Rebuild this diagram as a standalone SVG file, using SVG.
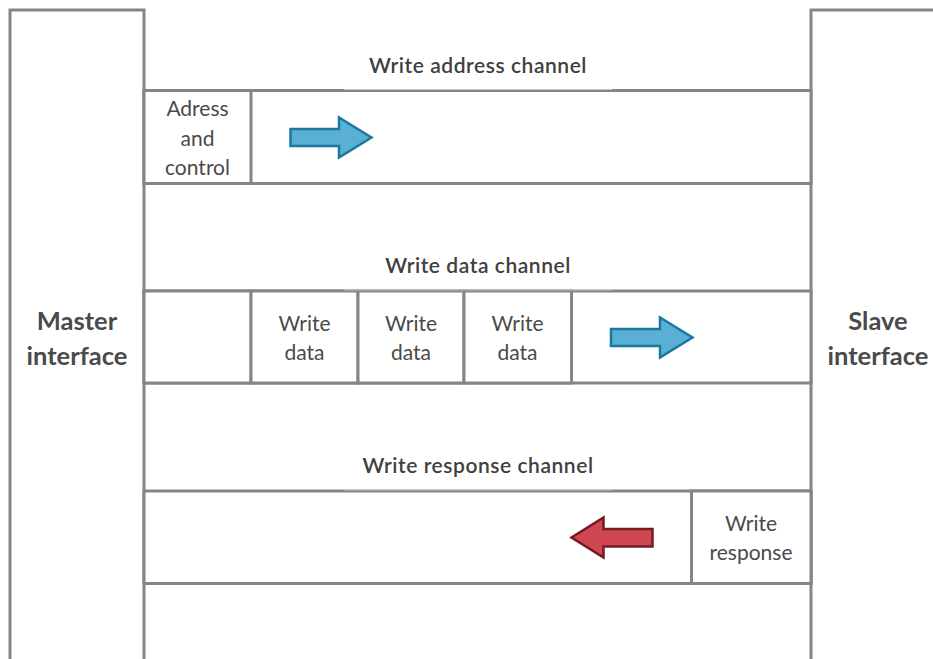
<svg xmlns="http://www.w3.org/2000/svg" width="933" height="659" viewBox="0 0 933 659">
  <style>
    .frame { fill: none; stroke: #858585; stroke-width: 3; }
    .cell { fill: #ffffff; stroke: #858585; stroke-width: 3; }
    .seam { fill: #c6c6c6; }
    .title { font-family: Lato, "Liberation Sans", sans-serif; font-size: 21px; font-weight: 600; letter-spacing: 0.55px; fill: #404040; text-anchor: middle; }
    .label { font-family: Lato, "Liberation Sans", sans-serif; font-size: 21px; fill: #4a4a4a; text-anchor: middle; }
    .side { font-family: Lato, "Liberation Sans", sans-serif; font-size: 25.5px; font-weight: bold; fill: #4a4a4a; text-anchor: middle; }
    .fwd { fill: #5aafd5; stroke: #1a78a0; stroke-width: 2.5; stroke-linejoin: miter; }
    .back { fill: #cf4751; stroke: #771a22; stroke-width: 2.5; stroke-linejoin: miter; }
  </style>

  <!-- Master side -->
  <g id="master">
    <path class="frame" d="M10,662 V10 H144 V662"/>
    <text class="side" x="77" y="330">Master</text>
    <text class="side" x="77" y="365">interface</text>
  </g>

  <!-- Slave side -->
  <g id="slave">
    <path class="frame" d="M811,662 V10 H936"/>
    <text class="side" x="878" y="330">Slave</text>
    <text class="side" x="878" y="365">interface</text>
  </g>

  <!-- Write address channel -->
  <g id="write-address-channel">
    <text class="title" x="478" y="73">Write address channel</text>
    <rect class="cell" x="144" y="90.5" width="667" height="93"/>
    <rect class="cell" x="144" y="90.5" width="107" height="93"/>
    <rect class="seam" x="344" y="89" width="268" height="1"/>
    <text class="label" x="197.5" y="116">Adress</text>
    <text class="label" x="197.5" y="145.5">and</text>
    <text class="label" x="197.5" y="175">control</text>
  </g>

  <!-- Write data channel -->
  <g id="write-data-channel">
    <text class="title" x="478" y="273">Write data channel</text>
    <rect class="cell" x="144" y="291" width="667" height="92"/>
    <rect class="cell" x="144" y="291" width="107" height="92"/>
    <rect class="cell" x="251" y="291" width="107" height="92"/>
    <rect class="cell" x="358" y="291" width="106" height="92"/>
    <rect class="cell" x="464" y="291" width="107.5" height="92"/>
    <rect class="seam" x="344" y="289.5" width="268" height="1"/>
    <text class="label" x="304.5" y="331">Write</text>
    <text class="label" x="304.5" y="360">data</text>
    <text class="label" x="411" y="331">Write</text>
    <text class="label" x="411" y="360">data</text>
    <text class="label" x="517.5" y="331">Write</text>
    <text class="label" x="517.5" y="360">data</text>
  </g>

  <!-- Write response channel -->
  <g id="write-response-channel">
    <text class="title" x="478" y="473">Write response channel</text>
    <rect class="cell" x="144" y="491" width="667" height="92.5"/>
    <rect class="cell" x="691.5" y="491" width="119.5" height="92.5"/>
    <rect class="seam" x="344" y="489.5" width="268" height="1"/>
    <text class="label" x="751" y="531">Write</text>
    <text class="label" x="751" y="560">response</text>
  </g>

  <!-- bottom rule between the interfaces -->
  <g id="lower-lane">
    <path class="frame" d="M144,583.5 H811"/>
  </g>

  <!-- Transfer direction arrows -->
  <g id="connectors">
    <path class="fwd" d="M290.5,129 H339 V117.5 L371.5,137.5 L339,157.5 V146 H290.5 Z"/>
    <path class="fwd" d="M611,329 H660 V317.5 L692.5,337.5 L660,357.5 V346 H611 Z"/>
    <path class="back" d="M652.5,529 H603.5 V517.5 L571.5,537.5 L603.5,557.5 V546.5 H652.5 Z"/>
  </g>
</svg>
